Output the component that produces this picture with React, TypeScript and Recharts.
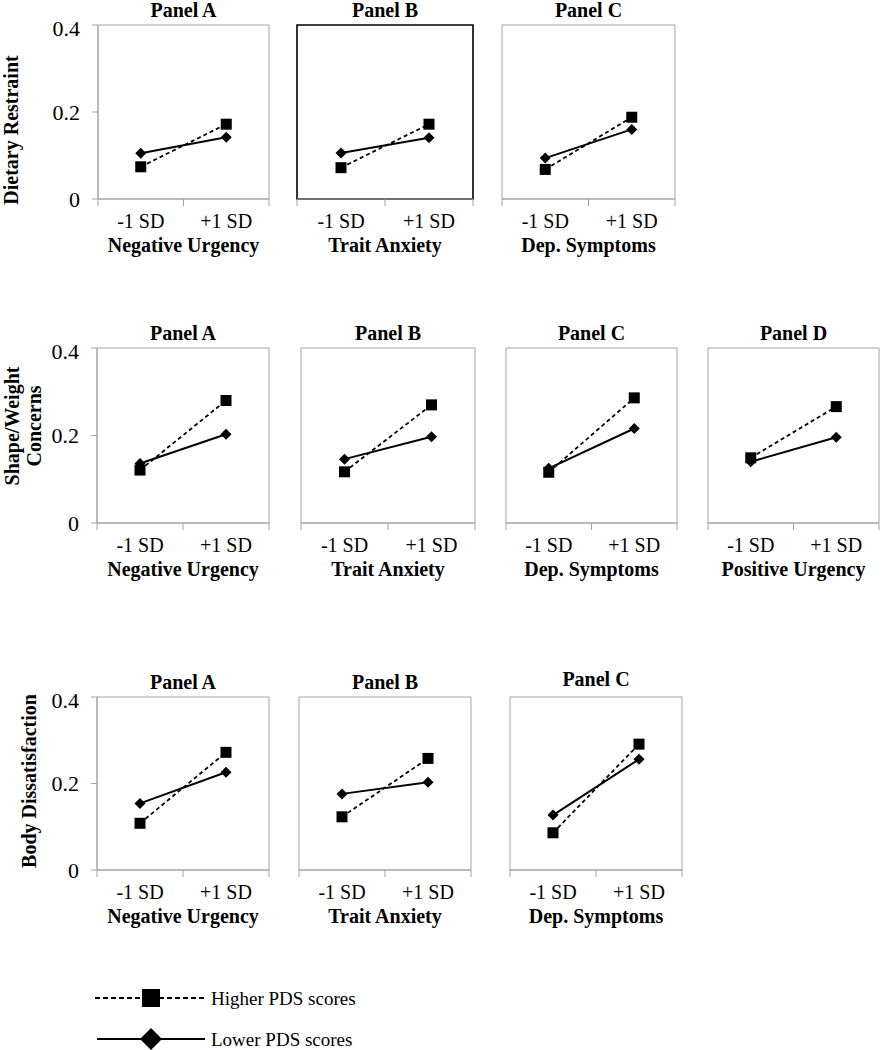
import React from 'react';
import { LineChart, Line, XAxis, YAxis, ReferenceArea } from 'recharts';

// x-axis levels and tick values
const sdLabels = ['-1 SD', '+1 SD'];
const yTicks = [0, 0.2, 0.4];
const panelTitles = ['Panel A', 'Panel B', 'Panel C', 'Panel D'];

// predictors per row
const restraintPredictors = ['Negative Urgency', 'Trait Anxiety', 'Dep. Symptoms'];
const shapePredictors = ['Negative Urgency', 'Trait Anxiety', 'Dep. Symptoms', 'Positive Urgency'];
const bodyPredictors = ['Negative Urgency', 'Trait Anxiety', 'Dep. Symptoms'];

// simple slopes: [-1 SD, +1 SD] for each panel
const restraintHigher = [[0.074, 0.172], [0.072, 0.172], [0.068, 0.188]];
const restraintLower = [[0.105, 0.142], [0.106, 0.141], [0.094, 0.16]];
const shapeHigher = [[0.121, 0.28], [0.117, 0.27], [0.116, 0.286], [0.149, 0.266]];
const shapeLower = [[0.136, 0.203], [0.146, 0.197], [0.125, 0.216], [0.14, 0.196]];
const bodyHigher = [[0.108, 0.272], [0.123, 0.258], [0.086, 0.291]];
const bodyLower = [[0.154, 0.226], [0.176, 0.203], [0.127, 0.256]];

const FONT = "'Liberation Serif', 'Times New Roman', Times, serif";
const GREY = '#a3a3a3';

const SquareDot = (props: any) => {
  const { cx, cy } = props;
  if (cx == null || cy == null) return null;
  return <rect x={cx - 5.5} y={cy - 5.5} width={11} height={11} fill="#000" />;
};

const DiamondDot = (props: any) => {
  const { cx, cy } = props;
  if (cx == null || cy == null) return null;
  const r = 5.5;
  return (
    <polygon
      points={`${cx},${cy - r} ${cx + r},${cy} ${cx},${cy + r} ${cx - r},${cy}`}
      fill="#000"
    />
  );
};

const XTick = (props: any) => {
  const { x, y, payload } = props;
  const v = payload.value;
  if (Number.isInteger(v)) {
    return <line x1={x} x2={x} y1={y} y2={y + 7} stroke={GREY} strokeWidth={1} />;
  }
  return (
    <text
      x={x}
      y={y + 22}
      textAnchor="middle"
      dominantBaseline="central"
      fontFamily={FONT}
      fontSize={20}
      fill="#000"
    >
      {sdLabels[Math.floor(v)]}
    </text>
  );
};

type PanelProps = {
  plotLeft: number;
  plotTop: number;
  plotW: number;
  plotH: number;
  title: string;
  titleDy?: number;
  predictor: string;
  higher: number[];
  lower: number[];
  withY?: boolean;
  yTitle?: string[];
  yTitleX?: number[];
  yTitleY?: number;
  border?: string;
  borderWidth?: number;
};

function Panel(p: PanelProps) {
  const data = sdLabels.map((_, i) => ({
    x: i + 0.5,
    higher: p.higher[i],
    lower: p.lower[i],
  }));
  const mt = 10;
  const ml = p.withY ? 0 : 8;
  const mr = 2;
  const chartLeft = p.withY ? 0 : p.plotLeft - ml;
  const chartTop = p.plotTop - mt;
  const width = (p.withY ? p.plotLeft : ml) + p.plotW + mr;
  const height = mt + p.plotH + 62;

  const yLabel = () => (
    <g>
      {(p.yTitle || []).map((line, i) => {
        const lx = (p.yTitleX || [])[i];
        const ly = (p.yTitleY || 0) - chartTop;
        return (
          <text
            key={line}
            x={lx}
            y={ly}
            transform={`rotate(-90, ${lx}, ${ly})`}
            textAnchor="middle"
            dominantBaseline="central"
            fontFamily={FONT}
            fontWeight="bold"
            fontSize={20}
            fill="#000"
          >
            {line}
          </text>
        );
      })}
    </g>
  );

  return (
    <>
      <div
        style={{
          position: 'absolute',
          left: p.plotLeft,
          width: p.plotW,
          top: p.plotTop - 15 + (p.titleDy || 0) - 12,
          lineHeight: '24px',
          textAlign: 'center',
          fontFamily: FONT,
          fontWeight: 'bold',
          fontSize: 20,
          color: '#000',
        }}
      >
        {p.title}
      </div>
      <div style={{ position: 'absolute', left: chartLeft, top: chartTop }}>
        <LineChart
          width={width}
          height={height}
          data={data}
          margin={{ top: mt, right: mr, bottom: 0, left: ml }}
        >
          {p.withY ? (
            <YAxis
              domain={[0, 0.4]}
              ticks={yTicks}
              width={p.plotLeft}
              stroke={GREY}
              tickSize={6}
              tickMargin={12}
              tick={{ fill: '#000', fontSize: 22, fontFamily: FONT }}
              label={{ content: yLabel }}
            />
          ) : (
            <YAxis hide domain={[0, 0.4]} />
          )}
          <XAxis
            dataKey="x"
            type="number"
            domain={[0, 2]}
            ticks={[0, 0.5, 1, 1.5, 2]}
            interval={0}
            height={62}
            stroke={GREY}
            tickLine={false}
            tickSize={0}
            tickMargin={0}
            tick={(tp: any) => <XTick {...tp} />}
            label={{
              content: (lp: any) => {
                const vb = lp.viewBox || {};
                return (
                  <text
                    x={vb.x + vb.width / 2}
                    y={vb.y + 46}
                    textAnchor="middle"
                    dominantBaseline="central"
                    fontFamily={FONT}
                    fontWeight="bold"
                    fontSize={20}
                    fill="#000"
                  >
                    {p.predictor}
                  </text>
                );
              },
            }}
          />
          <ReferenceArea
            x1={0}
            x2={2}
            y1={0}
            y2={0.4}
            fill="none"
            stroke={p.border || GREY}
            strokeWidth={p.borderWidth || 1}
            ifOverflow="visible"
          />
          <Line
            dataKey="lower"
            stroke="#000"
            strokeWidth={2}
            dot={<DiamondDot />}
            activeDot={false}
            isAnimationActive={false}
          />
          <Line
            dataKey="higher"
            stroke="#000"
            strokeWidth={1.8}
            strokeDasharray="4 3"
            dot={<SquareDot />}
            activeDot={false}
            isAnimationActive={false}
          />
        </LineChart>
      </div>
    </>
  );
}

export default function App() {
  const row1Left = [98, 297, 502];
  const row1W = [171, 176, 173];
  const row2Left = [97, 301, 506, 708];
  const row2W = [172, 174, 171, 171];
  const row3Left = [97, 299, 510];
  const row3W = [172, 172, 172];

  return (
    <div
      style={{
        position: 'absolute',
        left: 0,
        top: 0,
        width: 882,
        height: 1050,
        overflow: 'hidden',
        background: '#fff',
      }}
    >
      {restraintPredictors.map((pred, i) => (
        <Panel
          key={'r1' + i}
          plotLeft={row1Left[i]}
          plotTop={25}
          plotW={row1W[i]}
          plotH={174}
          title={panelTitles[i]}
          predictor={pred}
          higher={restraintHigher[i]}
          lower={restraintLower[i]}
          withY={i === 0}
          yTitle={['Dietary Restraint']}
          yTitleX={[11]}
          yTitleY={130}
          border={i === 1 ? '#000' : GREY}
          borderWidth={i === 1 ? 1.6 : 1}
        />
      ))}
      {shapePredictors.map((pred, i) => (
        <Panel
          key={'r2' + i}
          plotLeft={row2Left[i]}
          plotTop={348}
          plotW={row2W[i]}
          plotH={175}
          title={panelTitles[i]}
          predictor={pred}
          higher={shapeHigher[i]}
          lower={shapeLower[i]}
          withY={i === 0}
          yTitle={['Shape/Weight', 'Concerns']}
          yTitleX={[12, 34]}
          yTitleY={426}
        />
      ))}
      {bodyPredictors.map((pred, i) => (
        <Panel
          key={'r3' + i}
          plotLeft={row3Left[i]}
          plotTop={697}
          plotW={row3W[i]}
          plotH={173}
          title={panelTitles[i]}
          titleDy={i === 2 ? -3 : 0}
          predictor={pred}
          higher={bodyHigher[i]}
          lower={bodyLower[i]}
          withY={i === 0}
          yTitle={['Body Dissatisfaction']}
          yTitleX={[29]}
          yTitleY={781}
        />
      ))}
      <svg
        style={{ position: 'absolute', left: 0, top: 970 }}
        width={420}
        height={80}
      >
        <line x1={95} x2={205} y1={28} y2={28} stroke="#000" strokeWidth={2} strokeDasharray="5 3" />
        <rect x={142} y={19} width={18} height={18} fill="#000" />
        <text x={211} y={28} dominantBaseline="central" fontFamily={FONT} fontSize={19} fill="#000">
          Higher PDS scores
        </text>
        <line x1={97} x2={205} y1={69} y2={69} stroke="#000" strokeWidth={2} />
        <polygon points="151,58 162,69 151,80 140,69" fill="#000" />
        <text x={211} y={69} dominantBaseline="central" fontFamily={FONT} fontSize={19} fill="#000">
          Lower PDS scores
        </text>
      </svg>
    </div>
  );
}
